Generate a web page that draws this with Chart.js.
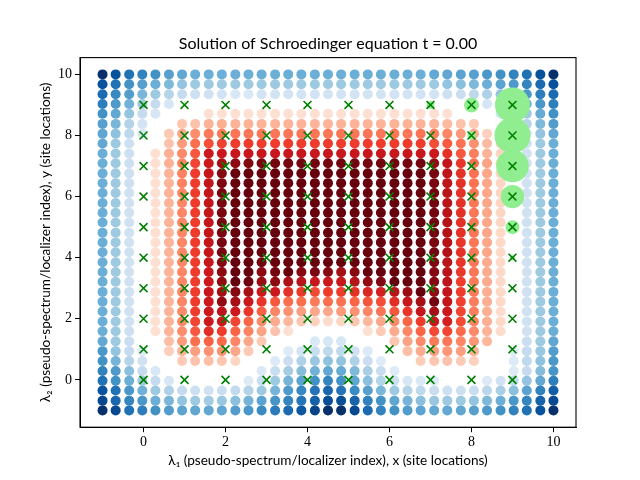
<!DOCTYPE html>
<html>
<head>
<meta charset="utf-8">
<script src="https://cdn.jsdelivr.net/npm/chart.js@4"></script>
<style>html,body{margin:0;padding:0;background:#fff}#w{width:640px;height:480px;position:relative}</style>
</head>
<body>
<div id="w"><canvas id="c" width="640" height="480"></canvas></div>
<script>
const chartTitle = "Solution of Schroedinger equation t = 0.00";
const xTitle = "λ₁ (pseudo-spectrum/localizer index), x (site locations)";
const yTitle = "λ₂ (pseudo-spectrum/localizer index), y (site locations)";
const xTicks = [0, 2, 4, 6, 8, 10];
const yTicks = [0, 2, 4, 6, 8, 10];

const gridX = [-1,-0.68,-0.35,-0.03,0.29,0.62,0.94,1.26,1.59,1.91,2.24,2.56,2.88,3.21,3.53,3.85,4.18,4.5,4.82,5.15,5.47,5.79,6.12,6.44,6.76,7.09,7.41,7.74,8.06,8.38,8.71,9.03,9.35,9.68,10];
const gridY = [10,9.68,9.35,9.03,8.71,8.38,8.06,7.74,7.41,7.09,6.76,6.44,6.12,5.79,5.47,5.15,4.82,4.5,4.18,3.85,3.53,3.21,2.88,2.56,2.24,1.91,1.59,1.26,0.94,0.62,0.29,-0.03,-0.35,-0.68,-1];

// Signed colour level read per dot: negative = Blues, positive = Reds, 0 = blank
const row00=[-8,-7,-6,-5.5,-5,-4.5,-4.3,-4,-4,-4,-4,-4,-4,-4,-4,-4,-4,-4,-4,-4,-4,-4,-4,-4,-4,-4.2,-4.3,-4.4,-4.5,-4.8,-5,-5.5,-6,-7,-8];
const row01=[-7,-6,-5,-4.5,-4,-3.6,-3.2,-3,-3,-3,-3,-3,-3,-3,-3,-3,-3,-3,-3,-3,-3,-3,-3,-3,-3,-3,-3.2,-3.4,-3.6,-4,-4.4,-4.7,-5.4,-6.2,-7];
const row02=[-6.2,-5.3,-4.6,-3.7,-3,-2.4,-2,-1.7,-1.6,-1.5,-1.2,-1.2,-1.5,-1.5,-1.5,-1.5,-1.5,-1.5,-1.5,-1.5,-1.5,-1.5,-1.5,-1.5,-1.5,-1.5,-1.7,-1.8,-2.2,-2.6,-3.2,-4,-4.8,-5.6,-6.2];
const row03=[-5.6,-4.7,-3.9,-3,-2,-1.3,0,0,0,0,0,0,0,0,0,0,0,0,0,0,0,0,0,0,0,0,0,0,0,-1.4,-2.2,-3,-3.9,-4.8,-5.6];
const row04=[-5,-4.2,-3.2,-2,-1.3,0,0,0,1,1,1,1,1,1,1,1,1,1,1,1,1,1,1,1,1,1,1,0,0,0,-1.3,-2,-3,-4.1,-5];
const row05=[-4.5,-3.7,-2.5,-1.5,0,0,1.7,1.8,2.2,2.3,2.2,2.2,2.2,2.2,2.2,2.2,2.2,2.2,2.2,2.2,2.2,2.2,2.2,2.2,2.2,2.2,2,1.8,1.6,0,0,-1.3,-2.4,-3.6,-4.6];
const row06=[-4.3,-3.3,-2.2,-1.3,0,1.6,2.5,3.1,3.6,3.6,3.7,3.7,3.7,3.7,3.7,3.7,3.7,3.7,3.7,3.7,3.7,3.7,3.7,3.7,3.7,3.5,3.3,2.8,2.4,1.4,0,0,-1.6,-3.2,-4.2];
const row07=[-4.2,-3,-1.7,0,0,1.8,2.8,3.9,4.6,4.9,5,5,5,5,5,5,5,5,5,5,5,5,5,5,5,4.6,4.3,3.8,3,2,1.3,0,-1.6,-3,-4];
const row08=[-4,-3,-1.7,0,1,2.3,3.2,4.4,6,6,6.1,6.1,6.1,6.1,6.1,6.1,6.1,6.1,6.1,6.1,6.1,6.1,6.1,6.1,6.1,6,5.3,4.4,3.5,2.2,1.3,0,-1.6,-3,-4];
const row09=[-4,-3,-1.7,0,1,2.3,3.4,4.8,6,7,7.4,7.6,7.7,7.8,7.8,7.8,7.8,7.8,7.8,7.8,7.8,7.8,7.8,7.8,7.8,7.3,6.3,5.2,3.9,2.6,1.4,0,-1.6,-3,-4];
const row10=[-4,-3,-1.7,0,1,2.2,3.4,5,6.2,7.5,8,8,8,8,8,8,8,8,8,8,8,8,8,8,8,7.7,6.4,5.3,3.8,2.5,1.3,0,-1.6,-3,-4];
const row11=[-4,-3,-1.7,0,1,2.2,3.4,5,6.2,7.6,8,8,8,8,8,8,8,8,8,8,8,8,8,8,8,7.7,6.4,5.3,3.8,2.5,1.3,0,-1.6,-3,-4];
const row12=[-4,-3,-1.6,0,1,2.2,3.3,5,6.2,7.7,8,8,8,8,8,8,8,8,8,8,8,8,8,8,8,7.8,6.5,5.3,3.7,2.5,1.3,0,-1.6,-3,-4];
const row13=[-4,-3,-1.6,0,1,2.2,3.3,5,6.2,7.7,8,8,8,8,8,8,8,8,8,8,8,8,8,8,8,7.8,6.5,5.3,3.7,2.5,1.3,0,-1.6,-3,-4];
const row14=[-4,-3,-1.6,0,1,2.2,3.3,5,6.2,7.7,8,8,8,8,8,8,8,8,8,8,8,8,8,8,8,7.8,6.5,5.3,3.7,2.5,1.3,0,-1.6,-3,-4];
const row15=[-4,-3,-1.6,0,1,2.2,3.3,5,6.2,7.7,8,8,8,8,8,8,8,8,8,8,8,8,8,8,8,7.8,6.6,5.3,3.7,2.5,1.3,0,-1.6,-3,-4];
const row16=[-4,-3,-1.6,0,1,2.2,3.3,5,6.2,7.7,8,8,8,8,8,8,8,8,8,8,8,8,8,8,8,7.8,6.6,5.3,3.7,2.5,1.2,0,-1.6,-3,-4];
const row17=[-4,-3,-1.6,0,1,2.2,3.3,5,6.2,7.7,8,8,8,8,8,8,8,8,8,8,8,8,8,8,8,7.7,6.6,5.2,3.7,2.5,1.2,0,-1.6,-3,-4];
const row18=[-4,-3,-1.6,0,1,2.2,3.3,5,6.2,7.7,8,8,8,8,8,8,8,8,8,8,8,8,8,8,8,7.8,6.7,5.3,3.7,2.5,1.2,0,-1.6,-3,-4];
const row19=[-4,-3,-1.6,0,1,2.2,3.3,5,6.1,7.5,8,8,7.8,8,8,8,8,8,8,8,8,8,8,8,8,7.6,6.5,5.2,3.7,2.4,1.2,0,-1.6,-3,-4];
const row20=[-4,-3,-1.6,0,1,2.2,3.3,5,6,7.4,8,8,7.4,7.8,8,7.5,7.7,7.5,7,7.5,8,8,8,8,8,7.5,6.5,5.1,3.7,2.4,1.2,0,-1.6,-3,-4];
const row21=[-4,-3,-1.6,0,1,2.2,3.3,5,6,7.3,8,7.9,7.2,7.4,6.8,6.5,6.1,6,6.1,6.6,7.3,7.6,8,8,8,7.5,6.4,5,3.6,2.4,1.2,0,-1.6,-3,-4];
const row22=[-4,-3,-1.6,0,1,2.2,3.3,5,6.1,7,7.5,7,6,6,5.3,5.1,4.7,5,5,5.3,5.6,5.8,6.5,7.2,8,7.3,6.3,5,3.6,2.3,1.2,0,-1.6,-3,-4];
const row23=[-4,-3,-1.6,0,1,2.2,3.3,5,6,7.3,7,6,5.2,4.4,3.9,3.9,3.6,3.9,3.8,4.1,4.5,4.6,5.4,6.1,7,7.8,6.2,4.9,3.5,2.3,1.2,0,-1.6,-3,-4];
const row24=[-4,-3,-1.6,0,1,2.2,3.2,5,6,6.4,6,5.2,4.2,3.3,3,2.7,2.5,2.5,2.8,3,3.3,3.7,4.4,5.2,6.2,7,6,4.8,3.5,2.3,1.1,0,-1.6,-3,-4];
const row25=[-4,-3,-1.6,0,1,2.2,3.2,4.8,6,6,4.8,4.1,3.2,2.4,2.1,1.7,1.4,1.1,1.3,1.7,2.1,2.5,3.2,4.1,5,6,5.8,4.7,3.4,2.3,1.2,0,-1.6,-3,-4];
const row26=[-4,-3,-1.7,0,1,2.2,3.1,4.4,5.4,5,4.1,3.4,2.6,1.8,1,0,0,0,0,0,1,1.6,2.4,3.3,4.1,4.7,4.8,4,3.2,2.2,1.1,0,-1.6,-3,-4];
const row27=[-4.2,-3,-1.8,0,0,1.9,2.8,3.9,4.2,4,3.3,2.5,1.6,0,0,0,-1.2,-1.3,-1.3,0,0,0,1.7,2.6,3.2,3.6,3.7,3.3,2.9,2.1,0,0,-1.8,-3,-4.3];
const row28=[-4.8,-3.2,-2,-1,0,1.5,2.2,2.7,3,3,2.5,1.6,0,0,-1,-1.5,-1.9,-2.2,-2.2,-1.6,-1.1,0,0,1.9,2.4,2.7,2.9,2.7,2.3,0,0,-1,-2,-3.1,-4.6];
const row29=[-5,-3.8,-2.4,-1.6,0,0,1.6,1.8,1.9,1.7,1.3,0,0,-1.1,-1.8,-2.6,-3.1,-3.3,-3.2,-2.6,-1.8,-1,0,0,1.5,1.7,1.8,1.6,1.4,0,0,-1.1,-2.2,-3.3,-4.8];
const row30=[-5.5,-4.7,-3.4,-2,-1.2,0,0,0,0,0,0,0,-1.1,-1.9,-2.8,-3.5,-3.9,-4.2,-4.1,-3.6,-2.7,-1.9,-1,0,0,0,0,0,0,0,0,-1,-2,-3.5,-4.9];
const row31=[-6,-5,-4,-3,-2,-1.3,0,0,0,0,0,-1,-1.8,-3,-3.8,-4.4,-5,-5.4,-5,-4.3,-3.4,-2.5,-1.7,-1.3,-1.2,-1,0,0,0,-1.1,-1.6,-2.2,-3.2,-4.2,-5.6];
const row32=[-6.9,-6,-4.8,-3.9,-3,-2.6,-2,-1.7,-1.6,-1.8,-2.1,-2.5,-3,-3.8,-4.7,-5.3,-5.9,-6.3,-5.9,-5.2,-4.5,-3.7,-3,-2.5,-2.2,-1.9,-1.7,-1.7,-1.9,-2.3,-2.7,-3.4,-4.4,-5.5,-6.6];
const row33=[-7.3,-6.3,-5.4,-4.8,-4,-3.7,-3.2,-3,-2.9,-3.1,-3.4,-3.8,-4.4,-4.9,-5.4,-5.9,-6.5,-7.1,-7.1,-6.4,-5.5,-5,-4.3,-3.8,-3.4,-3.1,-3,-3,-3.2,-3.6,-4,-4.8,-5.4,-6.4,-7.2];
const row34=[-8,-7.2,-6,-5.6,-5,-4.6,-4.4,-4.3,-4.2,-4.3,-4.6,-4.8,-5.2,-5.7,-6.2,-6.8,-7.4,-8,-8,-7.2,-6.2,-5.5,-5,-4.6,-4.4,-4.2,-4.2,-4.3,-4.5,-4.7,-5,-5.5,-6,-7,-8];
const allRows=[row00,row01,row02,row03,row04,row05,row06,row07,row08,row09,row10,row11,row12,row13,row14,row15,row16,row17,row18,row19,row20,row21,row22,row23,row24,row25,row26,row27,row28,row29,row30,row31,row32,row33,row34];

const bluesPalette=["#ffffff","#deebf7","#c6dbef","#9ecae1","#6baed6","#4292c6","#2171b5","#08519c","#08306b"];
const redsPalette=["#ffffff","#fee0d2","#fcbba1","#fc9272","#fb6a4a","#ef3b2c","#cb181d","#a50f15","#67000d"];

// Site markers and the wavefunction circles
const siteX=[0,1,2,3,4,5,6,7,8,9];
const siteY=[0,1,2,3,4,5,6,7,8,9];
const blobX=[9,9,9,9,9,9,8,8,8,7];
const blobY=[9,8,7,6,5,4,9,8,7,9];
const blobR=[17.5,18,16.3,11.7,7,2.5,7.5,4,2,4];

function hexRgb(h){return [1,3,5].map(i=>parseInt(h.slice(i,i+2),16));}
function levelColor(v){
  const pal=v<0?bluesPalette:redsPalette;
  const a=Math.min(Math.abs(v),8),lo=Math.floor(a),hi=Math.min(lo+1,8),t=a-lo;
  const A=hexRgb(pal[lo]),B=hexRgb(pal[hi]);
  return "rgb("+A.map((c,k)=>Math.round(c+(B[k]-c)*t)).join(",")+")";
}
const dotPoints=[],dotColors=[];
allRows.forEach((row,j)=>row.forEach((v,i)=>{
  if(v!==0){dotPoints.push({x:gridX[i],y:gridY[j]});dotColors.push(levelColor(v));}
}));
const sitePoints=[];
siteX.forEach(x=>siteY.forEach(y=>sitePoints.push({x,y})));
const blobPoints=blobX.map((x,k)=>({x,y:blobY[k]}));

const frame={id:"frame",afterDatasetsDraw(ch){
  const a=ch.chartArea,c=ch.ctx;c.save();c.strokeStyle="#000";c.lineWidth=1.1;
  c.strokeRect(a.left,a.top,a.right-a.left,a.bottom-a.top);c.restore();
}};
const sans="Lato,'DejaVu Sans',sans-serif";
const serif="'Liberation Serif','DejaVu Serif',serif";

new Chart(document.getElementById("c"),{
  type:"scatter",
  data:{datasets:[
    {label:"sites",data:sitePoints,pointStyle:"crossRot",pointRadius:5.6,pointBorderColor:"#008000",pointBorderWidth:1.6,pointBackgroundColor:"#008000",showLine:false},
    {label:"wavefunction",data:blobPoints,pointRadius:blobR,pointBackgroundColor:"#90ee90",pointBorderWidth:0,showLine:false},
    {label:"spectrum",data:dotPoints,pointRadius:5,pointBackgroundColor:dotColors,pointBorderWidth:0,showLine:false}
  ]},
  plugins:[frame],
  options:{
    responsive:false,animation:false,devicePixelRatio:1,
    layout:{padding:{left:0,right:64,top:0,bottom:0}},
    plugins:{
      legend:{display:false},tooltip:{enabled:false},
      title:{display:true,text:chartTitle,color:"#000",fullSize:false,font:{family:sans,size:16,weight:"normal"},padding:{top:34.4,bottom:4}}
    },
    scales:{
      x:{type:"linear",min:-1.55,max:10.55,
        afterBuildTicks(s){s.ticks=xTicks.map(v=>({value:v}));},
        afterFit(s){s.height=52.8;},
        border:{color:"#000",width:1},
        grid:{display:true,drawOnChartArea:false,drawTicks:true,tickLength:5,tickColor:"#000",tickWidth:1},
        ticks:{color:"#000",font:{family:serif,size:14},padding:2,maxRotation:0,autoSkip:false},
        title:{display:true,text:xTitle,color:"#000",font:{family:sans,size:13.6},padding:{top:0,bottom:10.8}}
      },
      y:{type:"linear",min:-1.55,max:10.55,
        afterBuildTicks(s){s.ticks=yTicks.map(v=>({value:v}));},
        afterFit(s){s.width=80;},
        border:{color:"#000",width:1},
        grid:{display:true,drawOnChartArea:false,drawTicks:true,tickLength:5,tickColor:"#000",tickWidth:1},
        ticks:{color:"#000",font:{family:serif,size:14},padding:3,autoSkip:false},
        title:{display:true,text:yTitle,color:"#000",font:{family:sans,size:13.6},padding:{top:37.5,bottom:0}}
      }
    }
  }
});
</script>
</body>
</html>
